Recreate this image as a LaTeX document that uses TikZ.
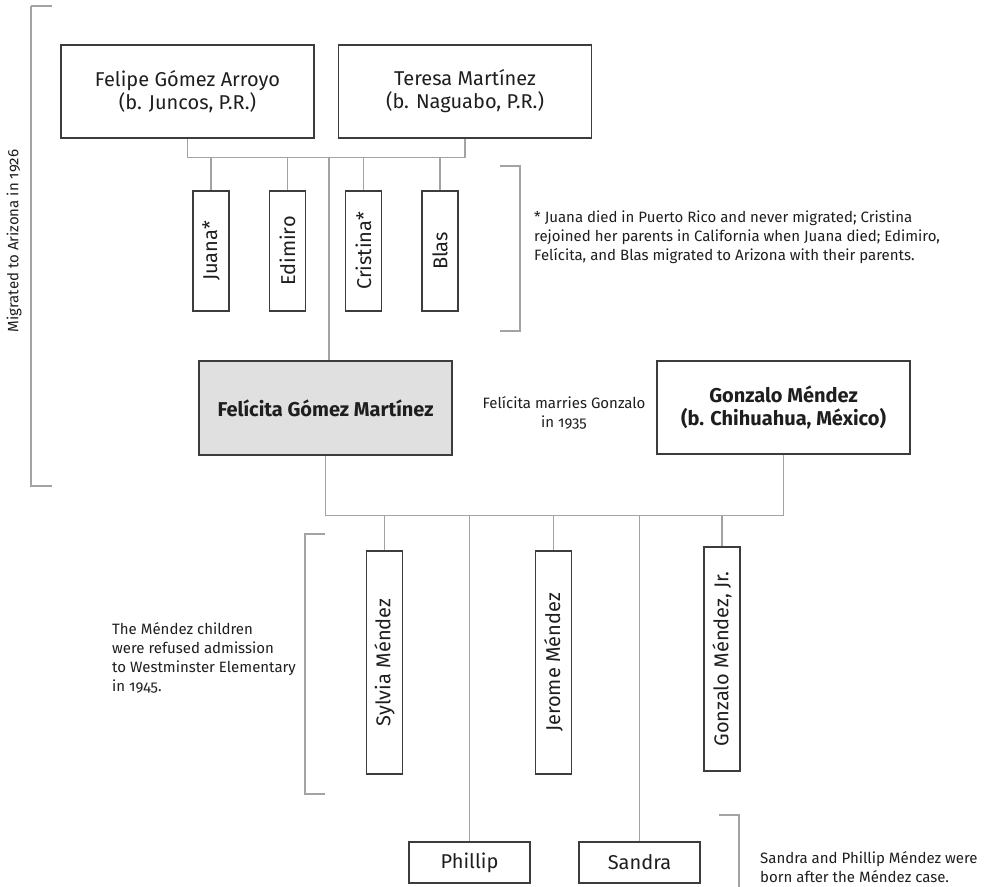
\documentclass[tikz,border=0pt]{standalone}
\usepackage{fontspec}
\setmainfont{Fira Sans}[Numbers=OldStyle]
\usepackage{tikz}
\usetikzlibrary{positioning}
\definecolor{rand}{HTML}{3C3C3C}
\definecolor{linie}{HTML}{A3A3A3}
\definecolor{grau}{HTML}{E0E0E0}
\definecolor{schrift}{HTML}{1E1E1E}

\begin{document}
\begin{tikzpicture}[
        x=1pt, y=-1pt,
        box/.style={draw=rand, line width=1.2pt, text=schrift, align=center,
                    inner sep=0pt, font=\fontsize{20}{23}\selectfont},
        gross/.style={box, minimum width=253pt, minimum height=93pt},
        kind/.style={box, rotate=90, minimum width=120pt, minimum height=36pt},
        link/.style={draw=linie, line width=1.2pt},
        note/.style={text=schrift, align=left, inner sep=0pt,
                     font=\fontsize{15}{19}\selectfont}
      ]
      \useasboundingbox (0,0) rectangle (989,887);
      % Eltern
      \node[gross] (felipe) at (187.5,91.5) {Felipe Gómez Arroyo\\(b. Juncos, P.R.)};
      \node[gross] (teresa) at (465,91.5) {Teresa Martínez\\(b. Naguabo, P.R.)};
      \draw[link] (felipe.south) -- ++(0,19) coordinate (eltern) -| (teresa.south);
      % Geschwister
      \node[kind] (juana) at (211,251) {Juana*};
      \node[kind] (edimiro) at (287.5,251) {Edimiro};
      \node[kind] (cristina) at (363.5,251) {Cristina*};
      \node[kind] (blas) at (440,251) {Blas};
      \draw[link] (juana.east |- eltern) -- (juana.east);
      \draw[link] (edimiro.east |- eltern) -- (edimiro.east);
      \draw[link] (cristina.east |- eltern) -- (cristina.east);
      \draw[link] (blas.east |- eltern) -- (blas.east);
      \draw[link] (500,166) -- (520,166) -- (520,331) -- (500,331);
      \node[note, anchor=west] (fussnote) at (534,237)
        {* Juana died in Puerto Rico and never migrated; Cristina\\
         rejoined her parents in California when Juana died; Edimiro,\\
         Felícita, and Blas migrated to Arizona with their parents.};
      % Felicita und Gonzalo
      \node[gross, fill=grau, minimum height=94pt, font=\fontsize{20}{23}\selectfont\bfseries]
        (felicita) at (325.5,408) {Felícita Gómez Martínez};
      \node[gross, font=\fontsize{20}{23}\selectfont\bfseries]
        (gonzalo) at (783.5,407.5) {Gonzalo Méndez\\(b. Chihuahua, México)};
      \coordinate (fx) at (329,0);
      \draw[link] (fx |- eltern) -- (fx |- felicita.north);
      \node[note, align=center] (heirat) at (564,413) {Felícita marries Gonzalo\\in 1935};
      \draw[link] (31,6) -- (52,6);
      \draw[link] (31,6) -- (31,486) -- (52,486);
      \node[note, rotate=90] (migr) at (14,241) {Migrated to Arizona in 1926};
      % Kinder
      \draw[link] (felicita.south) -- ++(0,60) coordinate (kinder) -| (gonzalo.south);
      \node[kind, minimum width=223pt] (sylvia) at (384.5,662.5) {Sylvia Méndez};
      \node[kind, minimum width=223pt] (jerome) at (553.5,662.5) {Jerome Méndez};
      \node[kind, minimum width=224pt] (gonzalojr) at (722,659) {Gonzalo Méndez, Jr.};
      \node[box, minimum width=121pt, minimum height=41pt] (phillip) at (469.5,862.5) {Phillip};
      \node[box, minimum width=121pt, minimum height=41pt] (sandra) at (639.5,862.5) {Sandra};
      \draw[link] (sylvia.east |- kinder) -- (sylvia.east);
      \draw[link] (jerome.east |- kinder) -- (jerome.east);
      \draw[link] (gonzalojr.east |- kinder) -- (gonzalojr.east);
      \draw[link] (phillip.north |- kinder) -- (phillip.north);
      \draw[link] (sandra.north |- kinder) -- (sandra.north);
      \draw[link] (325,534) -- (305,534) -- (305,794) -- (325,794);
      \node[note, anchor=west] (schule) at (112,658)
        {The Méndez children\\were refused admission\\to Westminster Elementary\\in 1945.};
      \draw[link] (719,815) -- (739,815) -- (739,890);
      \node[note, anchor=west] (spaeter) at (760,867)
        {Sandra and Phillip Méndez were\\born after the Méndez case.};
    \end{tikzpicture}
\end{document}
